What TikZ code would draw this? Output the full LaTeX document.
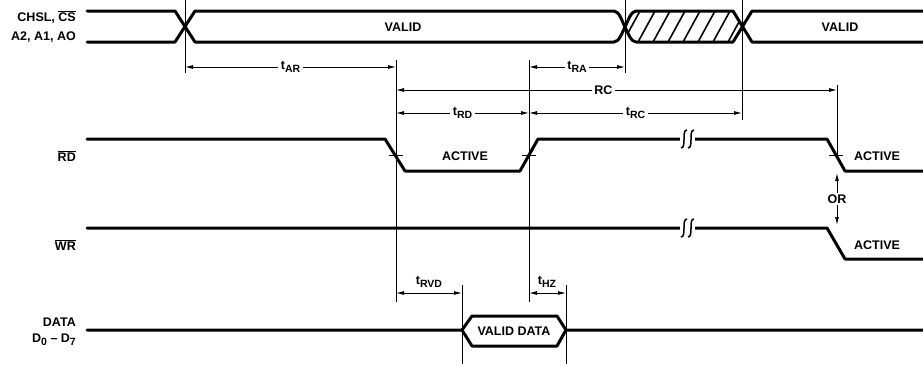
\documentclass[tikz,border=0pt]{standalone}
\usepackage{fontspec}
\setmainfont{Liberation Sans}
\usetikzlibrary{arrows.meta}
\newcommand\tsub[2]{#1\raisebox{-0.5ex}{\fontsize{10.5}{11}\selectfont #2}}
\begin{document}
\begin{tikzpicture}[x=1pt,y=-1pt,
  sig/.style={line width=3pt, line join=round, line cap=round},
  dim/.style={line width=0.9pt, {Latex[length=8pt,width=4pt]}-{Latex[length=8pt,width=4pt]}},
  lead/.style={line width=0.9pt},
  lbl/.style={font=\bfseries\fontsize{12.5}{14}\selectfont, inner sep=1pt},
  gaplbl/.style={lbl, fill=white, inner sep=2.5pt}]
\useasboundingbox (0,0) rectangle (923,364);
% signal names
\node[lbl, anchor=east] (cs) at (77,17) {CHSL, $\overline{\hbox{CS}}$};
\node[lbl, anchor=east] (addr) at (77,37) {A2, A1, AO};
\node[lbl, anchor=east] (rd) at (77,156) {$\overline{\hbox{RD}}$};
\node[lbl, anchor=east] (wr) at (77,245) {$\overline{\hbox{WR}}$};
\node[lbl, anchor=east] (data) at (77,322) {DATA};
\node[lbl, anchor=east] (dbus) at (77,340) {\tsub{D}{0} -- \tsub{D}{7}};
% address / chip select
\draw[sig] (87,11) -- (175,11) -- (195,42) -- (614,42) .. controls (619,42) and (622,33) .. (625,27)
  .. controls (628,21) and (631,11) .. (636,11) -- (733,11) -- (752,42) -- (930,42);
\draw[sig] (87,42) -- (175,42) -- (195,11) -- (614,11) .. controls (619,11) and (622,21) .. (625,27)
  .. controls (628,33) and (631,42) .. (636,42) -- (733,42) -- (752,11) -- (930,11);
\begin{scope}
\clip (625,27) -- (636,11) -- (733,11) -- (742,27) -- (733,42) -- (636,42) -- cycle;
\foreach \x in {623,638,...,743}
  \draw[line width=1.6pt] (\x,42) -- (\x+17,11);
\end{scope}
\node[lbl] (valid1) at (403,27) {VALID};
\node[lbl] (valid2) at (840,27) {VALID};
% read strobe
\draw[sig] (87,139) -- (385,139) -- (405,171) -- (520,171) -- (538,139) -- (827,139) -- (845,171) -- (930,171);
\node[lbl] (act1) at (465,156) {ACTIVE};
\node[lbl] (act2) at (877,156) {ACTIVE};
% write strobe
\draw[sig] (87,228) -- (827,228) -- (845,259) -- (930,259);
\node[lbl] (act3) at (877,245) {ACTIVE};
% break marks
\foreach \y in {139,228} {
  \fill[white] (680,\y-4) rectangle (695,\y+4);
  \foreach \x in {684,691}
    \draw[line width=1.5pt] (\x+3,\y-9) .. controls (\x-3,\y-9) and (\x+3,\y+9) .. (\x-3,\y+9);
}
% data bus
\draw[sig] (87,330) -- (462,330) -- (472,316) -- (557,316) -- (566,330) -- (930,330);
\draw[sig] (462,330) -- (472,346) -- (557,346) -- (566,330);
\node[lbl] (vdata) at (514,331) {VALID DATA};
% reference lines
\draw[lead] (185,0) -- (185,73);
\draw[lead] (396,60) -- (396,302);
\draw[lead] (529,60) -- (529,302);
\draw[lead] (625,0) -- (625,73);
\draw[lead] (742,0) -- (742,120);
\draw[lead] (837,85) -- (837,160);
\draw[lead] (462,285) -- (462,364);
\draw[lead] (566,285) -- (566,364);
\foreach \x in {396,529,836}
  \draw[lead] (\x-7,155) -- (\x+7,155);
% timing
\draw[dim] (185,67) -- (396,67) node[gaplbl, midway] (tar) {\tsub{t}{AR}};
\draw[dim] (529,67) -- (625,67) node[gaplbl, midway] (tra) {\tsub{t}{RA}};
\draw[dim] (396,90) -- (837,90) node[gaplbl, pos=0.47] (rc) {RC};
\draw[dim] (396,113) -- (529,113) node[gaplbl, midway] (trd) {\tsub{t}{RD}};
\draw[dim] (529,113) -- (742,113) node[gaplbl, midway] (trc) {\tsub{t}{RC}};
\draw[dim] (396,293) -- (462,293);
\node[lbl] (trvd) at (429,282) {\tsub{t}{RVD}};
\draw[dim] (529,293) -- (566,293);
\node[lbl] (thz) at (547,282) {\tsub{t}{HZ}};
\node[lbl] (or) at (837,199) {OR};
\draw[lead, -{Latex[length=8pt,width=4pt]}] (or) -- (837,173);
\draw[lead, -{Latex[length=8pt,width=4pt]}] (or) -- (837,225);
\end{tikzpicture}
\end{document}
